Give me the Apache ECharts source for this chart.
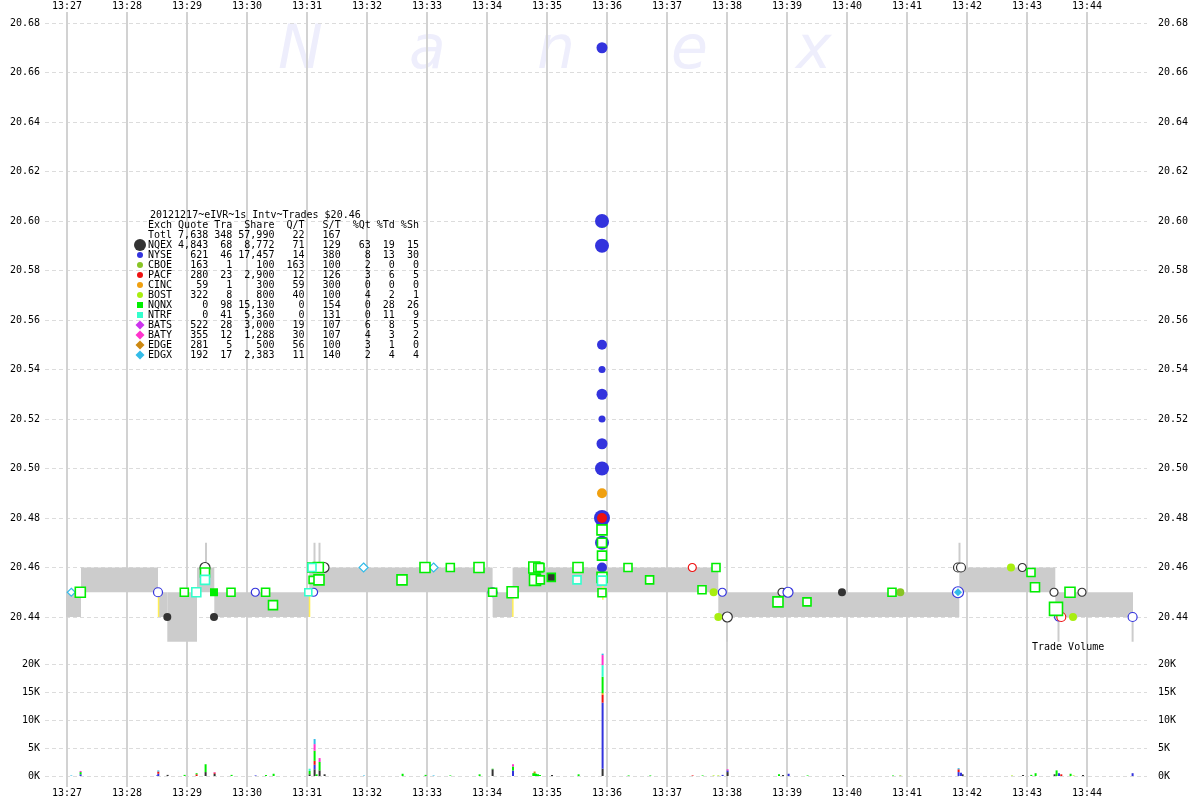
<!DOCTYPE html>
<html><head><meta charset="utf-8">
<script src="https://cdn.jsdelivr.net/npm/echarts@6/dist/echarts.min.js"></script>
<style>html,body{margin:0;padding:0;background:#fff}#c{width:1200px;height:800px}</style>
</head><body><div id="c"></div>
<script>
// ---- data (time = seconds after 13:27:00) ----
const exNames = ['NQEX','NYSE','CBOE','PACF','CINC','BOST','NQNX','NTRF','BATS','BATY','EDGE','EDGX'];
const exColors = ['#333333','#3333dd','#88c425','#ee1111','#f0a010','#a8ee10','#00ee00','#33ffcc','#cc33ee','#ff33cc','#cc8811','#33bbe8'];
const exSymbols = ['circle','circle','circle','circle','circle','circle','rect','rect','diamond','diamond','diamond','diamond'];

const tableTitle = '20121217~eIVR~1s Intv~Trades $20.46';
const tableHeader = ['Exch','Quote','Tra','Share','Q/T','S/T','%Qt','%Td','%Sh'];
const tableTotal = ['Totl','7,638','348','57,990','22','167','','',''];
const tblQuote = ['4,843','621','163','280','59','322','0','0','522','355','281','192'];
const tblTra = ['68','46','1','23','1','8','98','41','28','12','5','17'];
const tblShare = ['8,772','17,457','100','2,900','300','800','15,130','5,360','3,000','1,288','500','2,383'];
const tblQT = ['71','14','163','12','59','40','0','0','19','30','56','11'];
const tblST = ['129','380','100','126','300','100','154','131','107','107','100','140'];
const tblPctQt = ['63','8','2','3','0','4','0','0','6','4','3','2'];
const tblPctTd = ['19','13','0','6','0','2','28','11','8','3','1','4'];
const tblPctSh = ['15','30','0','5','0','1','26','9','5','2','0','4'];

const priceTicks = {min: 20.44, max: 20.68, step: 0.02};
const volTicks = {min: 0, max: 20000, step: 5000};
const timeTicks = {min: -60, max: 1080, step: 60};

// NBBO band: [start, end, bid, ask]
const quoteBands = [
  [-1, 14, 20.44, 20.45], [14, 91, 20.45, 20.46], [91, 100.3, 20.44, 20.45],
  [100.3, 130, 20.43, 20.45], [130, 147.3, 20.45, 20.46], [147.3, 242.3, 20.44, 20.45],
  [242.3, 425.6, 20.45, 20.46], [425.6, 445.6, 20.44, 20.45], [445.6, 651.3, 20.45, 20.46],
  [651.3, 892.3, 20.44, 20.45], [892.3, 988.3, 20.45, 20.46], [988.3, 1066, 20.44, 20.45]
];
// short quote spikes: [time, from, to]
const quoteSpikes = [
  [139, 20.46, 20.47], [247.5, 20.46, 20.47], [252.5, 20.46, 20.47], [892.5, 20.46, 20.47],
  [660, 20.44, 20.43], [991.5, 20.44, 20.43], [1065.6, 20.44, 20.43]
];
// locked quote marks: [time, from, to]
const lockedMarks = [[91.3, 20.44, 20.45], [242.3, 20.44, 20.45], [445.6, 20.44, 20.45], [535.6, 20.447, 20.455]];

// trades: [time, price, markerSize, style(0 hollow,1 filled,2 dark fill)]
const trNQEX = [[100.3,20.44,8,1],[147,20.44,8,1],[138,20.46,10,0],[257,20.46,10,0],[775,20.45,8,1],[715,20.45,8,0],
  [660.3,20.44,10,0],[891,20.46,9,0],[894,20.46,9,0],[955.3,20.46,8,0],[987,20.45,8,0],[1015,20.45,8,0]];
const trNYSE = [[91,20.45,9,0],[188.3,20.45,8,0],[246.6,20.45,8,0],[425.6,20.45,9,0],[445.6,20.45,11,1],[655.3,20.45,8,0],
  [721,20.45,10,0],[891,20.45,11,0],[991.6,20.44,8,0],[1065.6,20.44,9,0],
  [535,20.67,11,1],[535,20.60,14,1],[535,20.59,14,1],[535,20.55,10,1],[535,20.54,7,1],[535,20.53,11,1],
  [535,20.52,7,1],[535,20.51,11,1],[535,20.50,14,1],[535,20.48,16,1],[535,20.47,14,1],[535,20.46,10,1]];
const trCBOE = [[833.3,20.45,8,1]];
const trPACF = [[625.3,20.46,8,0],[994.3,20.44,9,0],[535,20.48,10,1]];
const trCINC = [[535,20.49,10,1]];
const trBOST = [[646.6,20.45,8,1],[651.3,20.44,8,1],[944,20.46,8,1],[1006,20.44,8,1]];
const trNQNX = [[13.3,20.45,10,0],[117.3,20.45,8,0],[138,20.458,9,0],[147,20.45,8,1],[164,20.45,8,0],[198.6,20.45,8,0],
  [206,20.4448,9,0],[245.3,20.46,9,0],[251.3,20.46,10,0],[245.6,20.455,7,0],[252,20.455,10,0],[335,20.455,10,0],
  [358,20.46,10,0],[383.3,20.46,8,0],[412,20.46,10,0],[425.6,20.45,8,0],[445.6,20.45,11,0],[467.3,20.46,11,0],
  [471.3,20.46,9,0],[473,20.46,8,0],[468,20.455,11,0],[473.3,20.455,8,0],[484.3,20.456,8,2],[511,20.46,10,0],
  [561,20.46,8,0],[582.6,20.455,8,0],[635,20.451,8,0],[649,20.46,8,0],[711,20.4461,10,0],[740,20.4461,8,0],
  [825,20.45,8,0],[964,20.458,8,0],[968,20.452,9,0],[989,20.4433,13,0],[1003,20.45,10,0],
  [535,20.4752,10,0],[535,20.47,9,0],[535,20.4648,9,0],[535,20.456,10,0],[535,20.4498,8,0]];
const trNTRF = [[129.3,20.45,9,0],[138,20.455,9,0],[241.3,20.45,7,0],[245,20.46,8,0],[510,20.455,8,0],[535,20.4547,9,0]];
const trBATS = [];
const trBATY = [];
const trEDGE = [];
const trEDGX = [[4.3,20.45,8,0],[296.6,20.46,9,0],[366.6,20.46,9,0],[891,20.45,8,1]];

// volume per exchange: [time, shares]
const volNQEX = [[100.6,200],[138.6,700],[147.6,400],[242.6,300],[247.6,1200],[252.6,1000],[257.6,300],[425.6,1200],
  [485,200],[535.6,1300],[660.6,700],[716,200],[776,200],[895.6,300],[956,200],[987.6,300],[1016,200]];
const volNYSE = [[13.6,300],[90,100],[91.3,400],[188.6,100],[247.6,800],[446,1000],[535.6,11800],[655.6,200],
  [660.6,300],[721.6,400],[891.6,700],[894,600],[992,500],[1065.6,500]];
const volCBOE = [[833.3,100]];
const volPACF = [[91.3,400],[129.6,300],[147.6,200],[247.6,700],[535.6,1400],[625.6,100],[891.6,500],[994.3,300]];
const volCINC = [[535.6,300]];
const volBOST = [[646.6,100],[651.3,100],[945,100],[1006.6,100]];
const volNQNX = [[13.6,400],[117.6,200],[129.6,200],[138.6,1400],[164.6,200],[199,200],[206.6,400],[242.6,600],
  [247.6,1800],[249.6,300],[252.6,1500],[335.6,400],[358.6,200],[383.3,100],[412.6,300],[425.6,100],[446,700],
  [466.3,500],[467.6,500],[469,400],[471,300],[473,200],[511.6,300],[535.6,2900],[561.6,100],[583.3,100],
  [635.6,100],[712,300],[740.6,100],[826,100],[964.3,200],[968.6,500],[989.6,1000],[1003.6,400]];
const volNTRF = [[242.6,400],[535.6,2100]];
const volBATS = [];
const volBATY = [[13.6,200],[147.6,100],[247.6,1200],[252.6,700],[446,400],[535.6,1800],[660.6,200]];
const volEDGE = [[467.6,300]];
const volEDGX = [[4.3,100],[91.3,200],[247.6,900],[297,100],[366.6,100],[535.6,250],[891.6,200]];

const trades = [trNQEX,trNYSE,trCBOE,trPACF,trCINC,trBOST,trNQNX,trNTRF,trBATS,trBATY,trEDGE,trEDGX];
const volumes = [volNQEX,volNYSE,volCBOE,volPACF,volCINC,volBOST,volNQNX,volNTRF,volBATS,volBATY,volEDGE,volEDGX];

// ---- build ----
const FONT = 'DejaVu Sans Mono';
function timeLabel(v){ const m = 27 + Math.round(v/60); return '13:' + (m < 10 ? '0' + m : m); }

// stacked volume segments in exchange order
const volMap = new Map();
volumes.forEach((arr, ei) => arr.forEach(([t, s]) => {
  const k = t.toFixed(1);
  if (!volMap.has(k)) volMap.set(k, {t, parts: []});
  volMap.get(k).parts.push([ei, s]);
}));
const volSegs = [];
volMap.forEach(({t, parts}) => {
  parts.sort((a, b) => a[0] - b[0]);
  let base = 0;
  parts.forEach(([ei, s]) => { volSegs.push([t, base, base + s, ei]); base += s; });
});

const scatterSeries = exNames.map((name, ei) => ({
  type: 'scatter', name, xAxisIndex: 2, yAxisIndex: 1, clip: false, silent: true,
  symbol: exSymbols[ei], z: 5 + (exSymbols[ei] === 'rect' ? 1 : 0),
  data: trades[ei].map(d => ({
    value: [d[0], d[1]], symbolSize: d[2],
    itemStyle: d[3] === 1 ? {color: exColors[ei], borderWidth: 0, opacity: 1}
      : d[3] === 2 ? {color: '#333333', borderColor: exColors[ei], borderWidth: 1.6, opacity: 1}
      : {color: '#ffffff', borderColor: exColors[ei], borderWidth: exSymbols[ei] === 'rect' ? 1.6 : 1.2, opacity: 1}
  }))
}));

function pad(s, n){ s = String(s); while (s.length < n) s = ' ' + s; return s; }
function rowText(c){ return String(c[0]).padEnd(4) + pad(c[1],6) + pad(c[2],4) + pad(c[3],7) + pad(c[4],5) + pad(c[5],6) + pad(c[6],5) + pad(c[7],4) + pad(c[8],4); }

const tableLines = [rowText(tableHeader), rowText(tableTotal)];
exNames.forEach((n, i) => tableLines.push(rowText([n, tblQuote[i], tblTra[i], tblShare[i], tblQT[i], tblST[i], tblPctQt[i], tblPctTd[i], tblPctSh[i]])));

const graphics = [];
// watermark
[['N',278],['a',409],['n',537],['e',671],['x',796]].forEach(([ch, x]) => graphics.push({
  type: 'text', x, y: 52, z: -10, silent: true,
  style: {text: ch, font: 'italic 60px "DejaVu Sans"', fill: '#eeeefc', verticalAlign: 'middle'}
}));
graphics.push({type: 'text', x: 150, y: 215, z: 10, silent: true,
  style: {text: tableTitle, font: '10px "' + FONT + '"', fill: '#000', verticalAlign: 'middle'}});
tableLines.forEach((ln, i) => graphics.push({type: 'text', x: 148, y: 225 + 10 * i, z: 10, silent: true,
  style: {text: ln, font: '10px "' + FONT + '"', fill: '#000', verticalAlign: 'middle'}}));
exNames.forEach((n, i) => {
  const y = 245 + 10 * i, c = exColors[i];
  if (i === 0) graphics.push({type: 'circle', z: 10, shape: {cx: 140, cy: y, r: 6}, style: {fill: c}});
  else if (exSymbols[i] === 'circle') graphics.push({type: 'circle', z: 10, shape: {cx: 140, cy: y, r: 3}, style: {fill: c}});
  else if (exSymbols[i] === 'rect') graphics.push({type: 'rect', z: 10, shape: {x: 137, y: y - 3, width: 6, height: 6}, style: {fill: c}});
  else graphics.push({type: 'polygon', z: 10, shape: {points: [[140, y - 4.5], [144.5, y], [140, y + 4.5], [135.5, y]]}, style: {fill: c}});
});
graphics.push({type: 'text', x: 1032, y: 647, z: 10, silent: true,
  style: {text: 'Trade Volume', font: '10px "' + FONT + '"', fill: '#000', verticalAlign: 'middle'}});

const labelStyle = {fontFamily: FONT, fontSize: 10, color: '#000'};
const dashed = {show: true, lineStyle: {color: '#dcdcdc', width: 1, type: [4, 3]}};

const option = {
  animation: false,
  backgroundColor: '#ffffff',
  graphic: {elements: graphics},
  grid: [
    {left: 7, right: 53, top: 12, bottom: 13},
    {left: 45, right: 53, top: 23, bottom: 183},
    {left: 45, right: 53, top: 664, bottom: 24}
  ],
  xAxis: [
    {type: 'value', gridIndex: 0, position: 'bottom', min: timeTicks.min, max: timeTicks.max, interval: timeTicks.step,
      axisLine: {show: false}, axisTick: {show: false},
      axisLabel: Object.assign({formatter: timeLabel, margin: 1, showMinLabel: false, showMaxLabel: false}, labelStyle),
      splitLine: {show: true, showMinLine: false, showMaxLine: false, lineStyle: {color: '#d2d2d2', width: 2}}},
    {type: 'value', gridIndex: 0, position: 'top', min: timeTicks.min, max: timeTicks.max, interval: timeTicks.step,
      axisLine: {show: false}, axisTick: {show: false},
      axisLabel: Object.assign({formatter: timeLabel, margin: 1, showMinLabel: false, showMaxLabel: false}, labelStyle),
      splitLine: {show: false}},
    {type: 'value', gridIndex: 1, min: -22, max: 1080, show: false},
    {type: 'value', gridIndex: 2, min: -22, max: 1080, show: false}
  ],
  yAxis: [
    {type: 'value', gridIndex: 0, min: 0, max: 1, show: false},
    {type: 'value', gridIndex: 1, position: 'left', min: priceTicks.min, max: priceTicks.max, interval: priceTicks.step,
      axisLine: {show: false}, axisTick: {show: false},
      axisLabel: Object.assign({formatter: v => v.toFixed(2), margin: 5}, labelStyle), splitLine: dashed},
    {type: 'value', gridIndex: 1, position: 'right', min: priceTicks.min, max: priceTicks.max, interval: priceTicks.step,
      axisLine: {show: false}, axisTick: {show: false},
      axisLabel: Object.assign({formatter: v => v.toFixed(2), margin: 11}, labelStyle), splitLine: {show: false}},
    {type: 'value', gridIndex: 2, position: 'left', min: volTicks.min, max: volTicks.max, interval: volTicks.step,
      axisLine: {show: false}, axisTick: {show: false},
      axisLabel: Object.assign({formatter: v => Math.round(v / 1000) + 'K', margin: 5}, labelStyle), splitLine: dashed},
    {type: 'value', gridIndex: 2, position: 'right', min: volTicks.min, max: volTicks.max, interval: volTicks.step,
      axisLine: {show: false}, axisTick: {show: false},
      axisLabel: Object.assign({formatter: v => Math.round(v / 1000) + 'K', margin: 11}, labelStyle), splitLine: {show: false}}
  ],
  series: [
    {type: 'custom', name: 'quotes', xAxisIndex: 2, yAxisIndex: 1, clip: false, silent: true, z: 1,
      encode: {x: [0, 1], y: [2, 3]}, data: quoteBands,
      renderItem(params, api) {
        const a = api.coord([api.value(0), api.value(3)]), b = api.coord([api.value(1), api.value(2)]);
        return {type: 'rect', shape: {x: a[0], y: a[1], width: b[0] - a[0], height: b[1] - a[1]}, style: {fill: '#cccccc'}};
      }},
    {type: 'custom', name: 'spikes', xAxisIndex: 2, yAxisIndex: 1, clip: false, silent: true, z: 1,
      encode: {x: 0, y: [1, 2]}, data: quoteSpikes,
      renderItem(params, api) {
        const a = api.coord([api.value(0), api.value(1)]), b = api.coord([api.value(0), api.value(2)]);
        return {type: 'rect', shape: {x: a[0] - 1, y: Math.min(a[1], b[1]), width: 2, height: Math.abs(b[1] - a[1])}, style: {fill: '#cccccc'}};
      }},
    {type: 'custom', name: 'locked', xAxisIndex: 2, yAxisIndex: 1, clip: false, silent: true, z: 2,
      encode: {x: 0, y: [1, 2]}, data: lockedMarks,
      renderItem(params, api) {
        const a = api.coord([api.value(0), api.value(1)]), b = api.coord([api.value(0), api.value(2)]);
        return {type: 'rect', shape: {x: a[0] - 0.5, y: Math.min(a[1], b[1]), width: 1.5, height: Math.abs(b[1] - a[1])}, style: {fill: '#ffee55'}};
      }},
    ...scatterSeries,
    {type: 'custom', name: 'volume', xAxisIndex: 3, yAxisIndex: 3, clip: false, silent: true, z: 3,
      encode: {x: 0, y: [1, 2]}, data: volSegs,
      renderItem(params, api) {
        const a = api.coord([api.value(0), api.value(1)]), b = api.coord([api.value(0), api.value(2)]);
        return {type: 'rect', shape: {x: a[0] - 1, y: b[1], width: 2, height: a[1] - b[1]}, style: {fill: exColors[api.value(3)]}};
      }}
  ]
};
echarts.init(document.getElementById('c')).setOption(option);
</script></body></html>
